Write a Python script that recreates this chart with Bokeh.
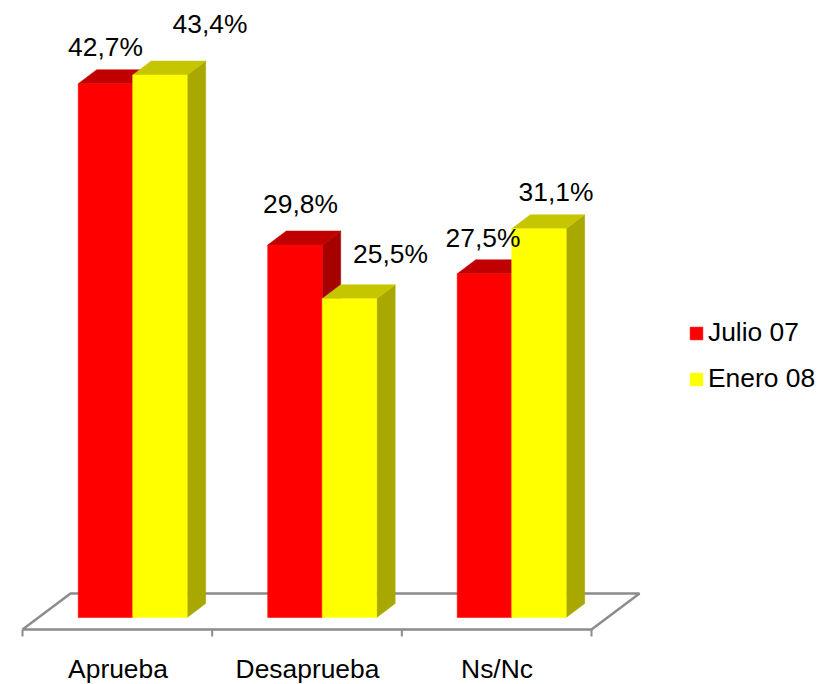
from bokeh.embed import file_html
from bokeh.resources import INLINE
from bokeh.plotting import figure
from bokeh.models import ColumnDataSource, FixedTicker, Legend, LegendItem, Range1d
from bokeh.core.properties import value

categories = ["Aprueba", "Desaprueba", "Ns/Nc"]
julio_07 = [42.7, 29.8, 27.5]
enero_08 = [43.4, 25.5, 31.1]
series_names = ["Julio 07", "Enero 08"]

FONT = "Liberation Sans"
FS = "26.4px"
PITCH = 189.5                 # px per category
UNIT = 12.5                   # px per percentage point
FRAME_W, FRAME_H = 833, 647
X0_PX, Y0_PX = 117.5, 617.0   # pixel of category 0 / of value 0 inside the frame

def dx(px):
    return px / PITCH

def dy(px):
    return px / UNIT

p = figure(frame_width=FRAME_W, frame_height=FRAME_H, output_backend="svg",
           toolbar_location=None, min_border=0, min_border_bottom=37,
           outline_line_color=None,
           background_fill_color="white", border_fill_color="white",
           x_range=Range1d(-dx(X0_PX), dx(FRAME_W - X0_PX)),
           y_range=Range1d(-dy(FRAME_H - Y0_PX), dy(Y0_PX)))
p.grid.visible = False
p.yaxis.visible = False

ax = p.xaxis[0]
ax.ticker = FixedTicker(ticks=list(range(len(categories))))
ax.major_label_overrides = {i: c for i, c in enumerate(categories)}
ax.major_label_text_font = FONT
ax.major_label_text_font_size = FS
ax.major_label_text_color = "#000000"
ax.axis_line_color = None
ax.major_tick_line_color = None
ax.minor_tick_line_color = None
ax.major_label_standoff = 0

# floor of the 3D plot
n = len(categories)
fl, fr = -dx(95.5), n - 1 + dx(94.5)
front_y, back_y = dy(Y0_PX - 629), dy(Y0_PX - 593)
depth_x = dx(48)
GREY = "#8c8c8c"
p.line([fl, fr, fr + depth_x, fl + depth_x, fl], [front_y, front_y, back_y, back_y, front_y],
       line_color=GREY, line_width=2.5)
tick_x = [fl + i * (fr - fl) / n for i in range(n + 1)]
p.segment(tick_x, [front_y] * (n + 1), tick_x, [dy(Y0_PX - 636)] * (n + 1),
          line_color=GREY, line_width=2)

# bars
BW = dx(54.5)
GROUP = dx(14.7)
DX, DY = dx(18.5), dy(14)

def bars(vals, left_of, front, top, side):
    lefts = [left_of(i) for i in range(len(vals))]
    rights = [l + BW for l in lefts]
    p.patches([[r, r + DX, r + DX, r] for r in rights],
              [[0, DY, v + DY, v] for v in vals],
              fill_color=side, line_color=side, line_width=0.5)
    p.patches([[l, l + DX, r + DX, r] for l, r in zip(lefts, rights)],
              [[v, v + DY, v + DY, v] for v in vals],
              fill_color=top, line_color=top, line_width=0.5)
    return p.quad(left=lefts, right=rights, bottom=[0] * len(vals), top=vals,
                  fill_color=front, line_color=front, line_width=0.5)

r_red = bars(julio_07, lambda i: i + GROUP - BW, "#ff0000", "#c00000", "#a60000")
r_yel = bars(enero_08, lambda i: i + GROUP, "#ffff00", "#c6c600", "#a8a800")

# data labels: hand-placed offsets from the top of each bar
def fmt(v):
    return f"{v:.1f}".replace(".", ",") + "%"

lab_x, lab_y, lab_t, off_x, off_y = [], [], [], [], []
red_off = [(0, -36.5), (5.5, -41), (-1.5, -36)]
yel_off = [(50, -51), (41, -45), (17, -37)]
for i in range(n):
    lab_x += [i + GROUP - BW / 2, i + GROUP + BW / 2]
    lab_y += [julio_07[i], enero_08[i]]
    lab_t += [fmt(julio_07[i]), fmt(enero_08[i])]
    off_x += [red_off[i][0], yel_off[i][0]]
    off_y += [red_off[i][1], yel_off[i][1]]
src = ColumnDataSource(dict(x=lab_x, y=lab_y, t=lab_t, ox=off_x, oy=off_y))
p.text("x", "y", text="t", source=src, x_offset="ox", y_offset="oy",
       text_font=value(FONT), text_font_size=value(FS), text_color="#000000",
       text_align="center", text_baseline="alphabetic")

legend = Legend(items=[LegendItem(label=series_names[0], renderers=[r_red]),
                       LegendItem(label=series_names[1], renderers=[r_yel])],
                location=(688, FRAME_H - 394), orientation="vertical",
                glyph_width=16, glyph_height=16, label_standoff=4,
                label_text_font=FONT, label_text_font_size=FS, label_text_color="#000000",
                spacing=15, padding=0, margin=0, border_line_color=None,
                background_fill_alpha=0, label_height=30)
p.add_layout(legend, "center")

open("out.html", "w").write(file_html(p, INLINE))
